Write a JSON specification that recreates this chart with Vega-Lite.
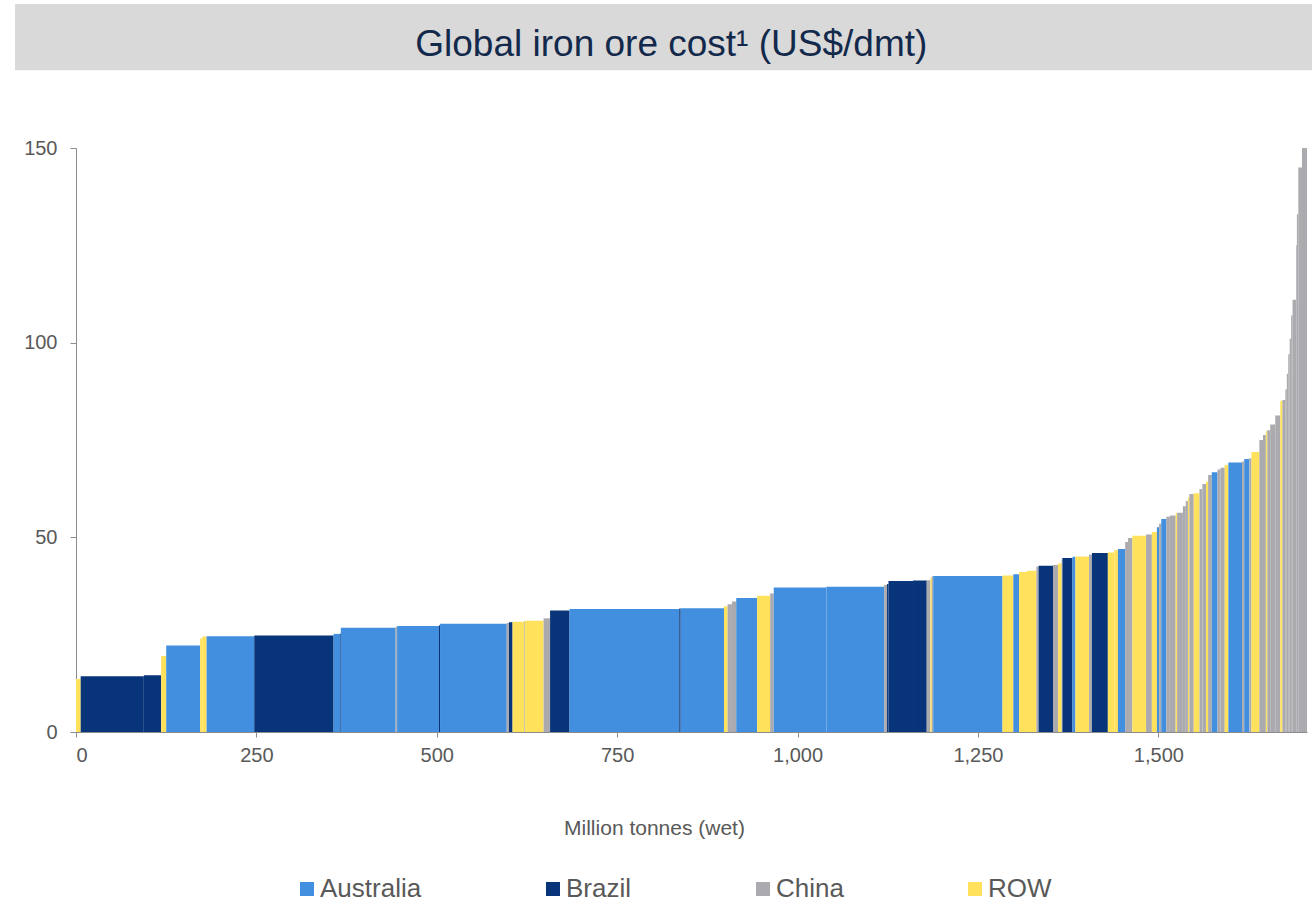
{
  "$schema": "https://vega.github.io/schema/vega-lite/v6.json",
  "autosize": "none",
  "width": 1231,
  "height": 584,
  "padding": {"left": 76, "top": 148, "right": 5, "bottom": 169},
  "background": "white",
  "config": {
    "view": {"stroke": null},
    "font": "Liberation Sans",
    "axis": {"grid": false, "domainColor": "#8C8C8C", "tickColor": "#8C8C8C", "labelColor": "#595959", "labelFont": "Liberation Sans", "titleFont": "Liberation Sans", "titleColor": "#595959", "titleFontWeight": "normal"}
  },
  "layer": [
    {
      "data": {"values": [{"band": "title"}]},
      "mark": {"type": "rect", "color": "#D9D9D9", "clip": false},
      "encoding": {
        "x": {"datum": -84.5, "type": "quantitative", "scale": {"domain": [0, 1706], "nice": false, "zero": false}},
        "x2": {"datum": 1713},
        "y": {"datum": 187, "type": "quantitative", "scale": {"domain": [0, 150], "nice": false}},
        "y2": {"datum": 170}
      }
    },
    {
      "data": {"values": [{"title": "Global iron ore cost¹ (US$/dmt)"}]},
      "mark": {"type": "text", "font": "Liberation Sans", "fontSize": 37, "color": "#13294B", "align": "center", "baseline": "alphabetic", "clip": false},
      "encoding": {
        "x": {"datum": 825, "type": "quantitative"},
        "y": {"datum": 173.6, "type": "quantitative"},
        "text": {"field": "title", "type": "nominal"}
      }
    },
    {
      "data": {"values": [
        {"n":1,"region":"ROW","mt":6.5,"cost":13.6},
        {"n":2,"region":"Brazil","mt":87.5,"cost":14.3},
        {"n":3,"region":"Brazil","mt":24,"cost":14.6},
        {"n":4,"region":"ROW","mt":7,"cost":19.5},
        {"n":5,"region":"Australia","mt":47,"cost":22.2},
        {"n":6,"region":"ROW","mt":3,"cost":24.0},
        {"n":7,"region":"ROW","mt":6,"cost":24.5},
        {"n":8,"region":"Australia","mt":66,"cost":24.6},
        {"n":9,"region":"Brazil","mt":110,"cost":24.8},
        {"n":10,"region":"Australia","mt":9,"cost":25.2},
        {"n":11,"region":"Brazil","mt":1,"cost":25.3},
        {"n":12,"region":"Australia","mt":76,"cost":26.8},
        {"n":13,"region":"China","mt":2,"cost":27.0},
        {"n":14,"region":"Australia","mt":58,"cost":27.2},
        {"n":15,"region":"Brazil","mt":1.5,"cost":27.4},
        {"n":16,"region":"Australia","mt":92.5,"cost":27.8},
        {"n":17,"region":"China","mt":3,"cost":28.0},
        {"n":18,"region":"Brazil","mt":5,"cost":28.2},
        {"n":19,"region":"ROW","mt":16,"cost":28.3},
        {"n":20,"region":"China","mt":1,"cost":28.5},
        {"n":21,"region":"ROW","mt":26,"cost":28.6},
        {"n":22,"region":"China","mt":9,"cost":29.2},
        {"n":23,"region":"Brazil","mt":27,"cost":31.2},
        {"n":24,"region":"Australia","mt":152,"cost":31.6},
        {"n":25,"region":"Brazil","mt":2,"cost":31.7},
        {"n":26,"region":"Australia","mt":60,"cost":31.8},
        {"n":27,"region":"ROW","mt":5,"cost":32.3},
        {"n":28,"region":"China","mt":6,"cost":32.8},
        {"n":29,"region":"China","mt":6,"cost":33.5},
        {"n":30,"region":"Australia","mt":29,"cost":34.4},
        {"n":31,"region":"ROW","mt":18,"cost":35.0},
        {"n":32,"region":"China","mt":5,"cost":35.6},
        {"n":33,"region":"Australia","mt":73,"cost":37.1},
        {"n":34,"region":"Australia","mt":80,"cost":37.3},
        {"n":35,"region":"China","mt":4,"cost":37.8},
        {"n":36,"region":"Brazil","mt":2,"cost":38.0},
        {"n":37,"region":"Brazil","mt":34,"cost":38.8},
        {"n":38,"region":"Brazil","mt":19,"cost":38.9},
        {"n":39,"region":"China","mt":5,"cost":39.0},
        {"n":40,"region":"ROW","mt":2,"cost":39.6},
        {"n":41,"region":"China","mt":2,"cost":40.0},
        {"n":42,"region":"Australia","mt":96,"cost":40.1},
        {"n":43,"region":"ROW","mt":15,"cost":40.2},
        {"n":44,"region":"Australia","mt":8,"cost":40.5},
        {"n":45,"region":"ROW","mt":11,"cost":41.1},
        {"n":46,"region":"ROW","mt":13,"cost":41.4},
        {"n":47,"region":"China","mt":3,"cost":42.5},
        {"n":48,"region":"Brazil","mt":20,"cost":42.7},
        {"n":49,"region":"China","mt":7,"cost":42.9},
        {"n":50,"region":"ROW","mt":5,"cost":43.3},
        {"n":51,"region":"China","mt":1,"cost":44.3},
        {"n":52,"region":"Brazil","mt":14,"cost":44.7},
        {"n":53,"region":"Australia","mt":4,"cost":45.0},
        {"n":54,"region":"ROW","mt":19,"cost":45.1},
        {"n":55,"region":"China","mt":4,"cost":45.6},
        {"n":56,"region":"Brazil","mt":22,"cost":46.0},
        {"n":57,"region":"ROW","mt":9,"cost":46.1},
        {"n":58,"region":"ROW","mt":5,"cost":46.7},
        {"n":59,"region":"Australia","mt":10,"cost":47.0},
        {"n":60,"region":"China","mt":4,"cost":48.8},
        {"n":61,"region":"China","mt":6,"cost":49.8},
        {"n":62,"region":"ROW","mt":19,"cost":50.4},
        {"n":63,"region":"China","mt":8,"cost":50.7},
        {"n":64,"region":"ROW","mt":7,"cost":51.4},
        {"n":65,"region":"Australia","mt":3,"cost":52.6},
        {"n":66,"region":"China","mt":3,"cost":53.5},
        {"n":67,"region":"Australia","mt":7,"cost":54.7},
        {"n":68,"region":"China","mt":5,"cost":55.3},
        {"n":69,"region":"China","mt":8,"cost":55.6},
        {"n":70,"region":"ROW","mt":2,"cost":56.2},
        {"n":71,"region":"China","mt":8,"cost":56.3},
        {"n":72,"region":"China","mt":4,"cost":58.0},
        {"n":73,"region":"China","mt":3,"cost":59.3},
        {"n":74,"region":"ROW","mt":2,"cost":60.3},
        {"n":75,"region":"China","mt":6,"cost":61.1},
        {"n":76,"region":"ROW","mt":8,"cost":61.3},
        {"n":77,"region":"China","mt":4,"cost":62.4},
        {"n":78,"region":"China","mt":5,"cost":63.7},
        {"n":79,"region":"ROW","mt":3,"cost":64.3},
        {"n":80,"region":"China","mt":5,"cost":66.0},
        {"n":81,"region":"Australia","mt":8,"cost":66.7},
        {"n":82,"region":"China","mt":4,"cost":67.4},
        {"n":83,"region":"China","mt":6,"cost":67.9},
        {"n":84,"region":"ROW","mt":5,"cost":68.6},
        {"n":85,"region":"Australia","mt":19,"cost":69.2},
        {"n":86,"region":"China","mt":3,"cost":69.5},
        {"n":87,"region":"Australia","mt":7,"cost":70.1},
        {"n":88,"region":"China","mt":3,"cost":70.3},
        {"n":89,"region":"ROW","mt":11,"cost":71.9},
        {"n":90,"region":"China","mt":5,"cost":75.0},
        {"n":91,"region":"China","mt":4,"cost":76.3},
        {"n":92,"region":"ROW","mt":2,"cost":77.3},
        {"n":93,"region":"China","mt":4,"cost":77.5},
        {"n":94,"region":"China","mt":7,"cost":79.0},
        {"n":95,"region":"China","mt":7,"cost":81.3},
        {"n":96,"region":"ROW","mt":3,"cost":85.1},
        {"n":97,"region":"China","mt":4,"cost":85.3},
        {"n":98,"region":"China","mt":2,"cost":88},
        {"n":99,"region":"China","mt":2,"cost":92},
        {"n":100,"region":"China","mt":2,"cost":97},
        {"n":101,"region":"China","mt":2,"cost":101},
        {"n":102,"region":"China","mt":2,"cost":107},
        {"n":103,"region":"China","mt":5,"cost":111},
        {"n":104,"region":"China","mt":1,"cost":125},
        {"n":105,"region":"China","mt":2,"cost":133},
        {"n":106,"region":"China","mt":5,"cost":145},
        {"n":107,"region":"China","mt":7,"cost":165}
      ]},
      "transform": [
        {"stack": "mt", "groupby": [], "sort": [{"field": "n", "order": "ascending"}], "as": ["start", "end"]}
      ],
      "mark": {"type": "rect", "clip": true},
      "encoding": {
        "x": {
          "field": "start", "type": "quantitative",
          "scale": {"domain": [0, 1706], "nice": false, "zero": false},
          "axis": {"values": [0, 250, 500, 750, 1000, 1250, 1500], "format": ",.0f", "labelFontSize": 20, "tickSize": 5, "labelPadding": 8, "title": "Million tonnes (wet)", "titleFontSize": 21, "titleX": 578, "titleY": 102, "titleBaseline": "alphabetic", "titleAlign": "center"}
        },
        "x2": {"field": "end"},
        "y": {
          "field": "cost", "type": "quantitative",
          "scale": {"domain": [0, 150], "nice": false},
          "axis": {"values": [0, 50, 100, 150], "labelFontSize": 20, "tickSize": 6, "labelPadding": 13, "title": null}
        },
        "y2": {"datum": 0},
        "color": {
          "field": "region", "type": "nominal",
          "scale": {"domain": ["Australia", "Brazil", "China", "ROW"], "range": ["#418FDE", "#08357A", "#ABABAF", "#FFE15B"]},
          "legend": {"orient": "none", "legendX": 218, "legendY": 728, "direction": "horizontal", "title": null, "symbolType": "square", "symbolSize": 196, "symbolStrokeWidth": 0, "labelFontSize": 26, "labelColor": "#595959", "labelFont": "Liberation Sans", "labelOffset": 0, "columnPadding": 118}
        }
      }
    }
  ]
}
